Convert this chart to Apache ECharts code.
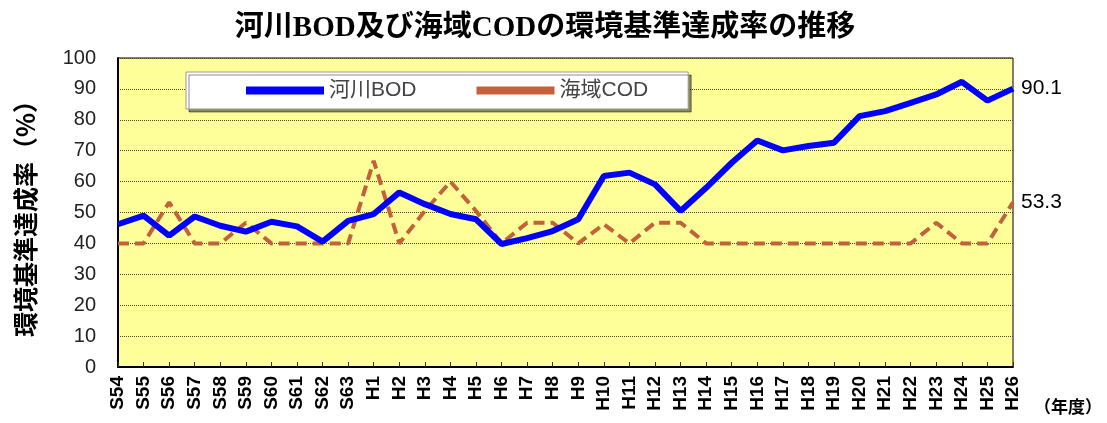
<!DOCTYPE html>
<html>
<head>
<meta charset="utf-8">
<script src="https://cdn.jsdelivr.net/npm/echarts@6/dist/echarts.min.js"></script>
<style>
  html, body { margin: 0; padding: 0; background: #fff; }
  #main { width: 1107px; height: 423px; }
</style>
</head>
<body>
<div id="main"></div>
<script>
// 年度
var years = ['S54','S55','S56','S57','S58','S59','S60','S61','S62','S63',
  'H1','H2','H3','H4','H5','H6','H7','H8','H9','H10','H11','H12','H13',
  'H14','H15','H16','H17','H18','H19','H20','H21','H22','H23','H24','H25','H26']
// 河川BOD 達成率
var bod = [46.2, 49, 42.5, 48.7, 45.7, 43.8, 47, 45.5, 40.6, 47.3,
  49.5, 56.5, 52.7, 49.5, 47.8, 39.8, 41.7, 44, 47.8, 61.8, 62.9, 59.1, 50.5,
  58, 66.1, 73.3, 70.1, 71.5, 72.6, 81.2, 82.8, 85.5, 88.2, 92.3, 86.2, 90.1]
// 海域COD 達成率
var cod = [40, 40, 53.3, 40, 40, 46.7, 40, 40, 40, 40,
  66.7, 40, 50.5, 60, 50.5, 40, 46.7, 46.7, 40, 46.2, 40, 46.7, 46.7,
  40, 40, 40, 40, 40, 40, 40, 40, 40, 46.7, 40, 40, 53.3]

var myChart = echarts.init(document.getElementById('main'))

var jpSans = 'Liberation Sans, Arial, Noto Sans CJK JP, sans-serif'

myChart.setOption({
  animation: false,
  title: {
    text: '河川BOD及び海域CODの環境基準達成率の推移',
    left: 540,
    textAlign: 'center',
    top: 9,
    textStyle: {
      fontFamily: 'Liberation Serif, Noto Sans CJK JP, serif',
      fontWeight: 'bold',
      fontSize: 29,
      color: '#000'
    }
  },
  legend: {
    left: 186,
    top: 72,
    width: 548,
    padding: [8, 40, 8, 60],
    itemGap: 60,
    itemWidth: 78,
    itemHeight: 14,
    backgroundColor: '#fff',
    borderColor: '#999',
    borderWidth: 1,
    shadowColor: 'rgba(0,0,0,0.45)',
    shadowOffsetX: 3,
    shadowOffsetY: 3,
    shadowBlur: 0,
    textStyle: { fontFamily: jpSans, fontSize: 21, color: '#444' },
    data: [
      { name: '河川BOD', icon: 'path://M0,0H10V1H0Z' },
      { name: '海域COD', icon: 'path://M0,0H10V1H0Z' }
    ]
  },
  grid: {
    left: 118,
    right: 94,
    top: 58,
    bottom: 56,
    show: true,
    backgroundColor: '#FFFF99',
    borderColor: '#000',
    borderWidth: 1
  },
  xAxis: {
    type: 'category',
    data: years,
    boundaryGap: false,
    axisLine: { lineStyle: { color: '#000', width: 2 } },
    axisTick: { inside: true, length: 5, lineStyle: { color: '#333' } },
    axisLabel: {
      rotate: 90,
      interval: 0,
      margin: 9,
      fontFamily: jpSans,
      fontWeight: 'bold',
      fontSize: 19,
      color: '#000'
    },
    splitLine: { show: false }
  },
  yAxis: {
    type: 'value',
    min: 0,
    max: 100,
    interval: 10,
    name: '環境基準達成率（%）',
    nameLocation: 'middle',
    nameGap: 80,
    nameRotate: 90,
    nameTextStyle: {
      fontFamily: 'Noto Sans CJK JP, sans-serif',
      fontWeight: 'bold',
      fontSize: 25,
      color: '#000'
    },
    axisLine: { show: true, lineStyle: { color: '#000', width: 2 } },
    axisTick: { show: false },
    axisLabel: {
      margin: 22,
      fontFamily: jpSans,
      fontSize: 20,
      color: '#222'
    },
    splitLine: { lineStyle: { color: '#4a4a2a', type: 'dotted', width: 1 } }
  },
  graphic: [{
    type: 'text',
    left: 1034,
    top: 398,
    style: {
      text: '（年度）',
      fontFamily: 'Noto Sans CJK JP, sans-serif',
      fontWeight: 'bold',
      fontSize: 17,
      fill: '#000'
    }
  }],
  series: [
    {
      name: '河川BOD',
      type: 'line',
      data: bod,
      symbol: 'none',
      color: '#0000FF',
      lineStyle: { color: '#0000FF', width: 6 },
      endLabel: {
        show: true,
        distance: 8,
        fontFamily: jpSans,
        fontSize: 21,
        color: '#000',
        formatter: function (p) { return p.value }
      },
      z: 3
    },
    {
      name: '海域COD',
      type: 'line',
      data: cod,
      symbol: 'none',
      color: '#C4603A',
      lineStyle: { color: '#C4603A', width: 4, type: [11, 6] },
      endLabel: {
        show: true,
        distance: 8,
        fontFamily: jpSans,
        fontSize: 21,
        color: '#000',
        formatter: function (p) { return p.value }
      },
      z: 2
    }
  ]
})
</script>
</body>
</html>
